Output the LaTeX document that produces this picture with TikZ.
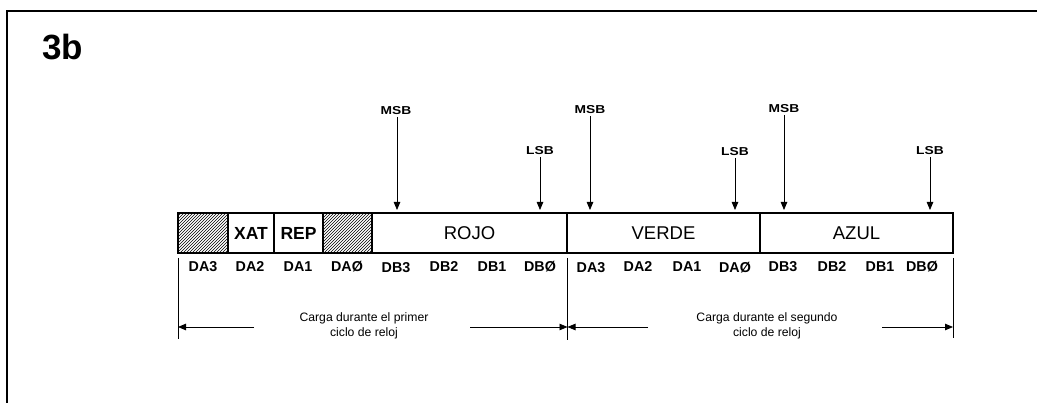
\documentclass[tikz,border=0pt]{standalone}
\usepackage{fontspec}
\setmainfont{Liberation Sans}
\newfontfamily\widesans[FakeStretch=1.2]{Liberation Sans}
\usetikzlibrary{patterns,arrows.meta}
\tikzset{
  cell/.style={draw,line width=1.3pt,minimum height=40pt,inner sep=0pt,anchor=center},
  hatch/.style={cell,pattern=north east lines},
  bitlbl/.style={font=\fontsize{14.3}{14}\selectfont\bfseries,inner sep=0pt},
  sblbl/.style={font=\widesans\fontsize{11.5}{12}\selectfont\bfseries,inner sep=1.5pt},
  ptr/.style={line width=0.8pt,-{Triangle[length=8pt,width=6.5pt]}},
  dim/.style={line width=0.8pt,-{Triangle[length=8pt,width=6.5pt]}},
  ext/.style={line width=0.8pt},
  note/.style={font=\fontsize{12.2}{15}\selectfont,align=center,inner sep=0pt}
}
\begin{document}
\begin{tikzpicture}[x=1pt,y=-1pt]
\useasboundingbox (0,0) rectangle (1037,403);
% frame
\draw[line width=1.5pt] (7,403) -- (7,11) -- (1037,11);
\node[anchor=west,font=\fontsize{35}{36}\selectfont\bfseries,inner sep=0pt] (title) at (42,47) {3b};
% register cells
\node[hatch,minimum width=50pt] (c1) at (203,233) {};
\node[cell,minimum width=46pt,font=\fontsize{17.5}{17.5}\selectfont\bfseries] (xat) at (251,233) {XAT};
\node[cell,minimum width=49pt,font=\fontsize{17.5}{17.5}\selectfont\bfseries] (rep) at (298.5,233) {REP};
\node[hatch,minimum width=49pt] (c4) at (347.5,233) {};
\node[cell,minimum width=195pt,font=\fontsize{18.5}{18.5}\selectfont] (rojo) at (469.5,233) {ROJO};
\node[cell,minimum width=193pt,font=\fontsize{18.5}{18.5}\selectfont] (verde) at (663.5,233) {VERDE};
\node[cell,minimum width=193pt,font=\fontsize{18.5}{18.5}\selectfont] (azul) at (856.5,233) {AZUL};
% bit labels
\node[bitlbl] (b1) at (203,267) {DA3};
\node[bitlbl] (b2) at (250,267) {DA2};
\node[bitlbl] (b3) at (298,267) {DA1};
\node[bitlbl] (b4) at (347,267) {DAØ};
\node[bitlbl] (b5) at (396,268) {DB3};
\node[bitlbl] (b6) at (444,267) {DB2};
\node[bitlbl] (b7) at (492,267) {DB1};
\node[bitlbl] (b8) at (540,267) {DBØ};
\node[bitlbl] (b9) at (591,268) {DA3};
\node[bitlbl] (b10) at (638,267) {DA2};
\node[bitlbl] (b11) at (687,267) {DA1};
\node[bitlbl] (b12) at (735,268) {DAØ};
\node[bitlbl] (b13) at (783,267) {DB3};
\node[bitlbl] (b14) at (832,267) {DB2};
\node[bitlbl] (b15) at (880,267) {DB1};
\node[bitlbl] (b16) at (922,267) {DBØ};
% MSB / LSB pointers
\node[sblbl] (m1) at (396,111) {MSB};
\node[sblbl] (l1) at (540,151) {LSB};
\node[sblbl] (m2) at (590,110) {MSB};
\node[sblbl] (l2) at (735,152) {LSB};
\node[sblbl] (m3) at (784,109) {MSB};
\node[sblbl] (l3) at (930,151) {LSB};
\coordinate (tm1) at (397,210);
\coordinate (tl1) at (540,210);
\coordinate (tm2) at (590,210);
\coordinate (tl2) at (735,210);
\coordinate (tm3) at (784,210);
\coordinate (tl3) at (930,210);
\draw[ptr] (m1.south -| tm1) -- (tm1);
\draw[ptr] (l1.south -| tl1) -- (tl1);
\draw[ptr] (m2.south -| tm2) -- (tm2);
\draw[ptr] (l2.south -| tl2) -- (tl2);
\draw[ptr] (m3.south -| tm3) -- (tm3);
\draw[ptr] (l3.south -| tl3) -- (tl3);
% extension lines
\coordinate (e1a) at (178,258); \coordinate (e1b) at (178,339);
\coordinate (e2a) at (567.5,258); \coordinate (e2b) at (567.5,340);
\coordinate (e3a) at (953,258); \coordinate (e3b) at (953,338);
\draw[ext] (e1a) -- (e1b);
\draw[ext] (e2a) -- (e2b);
\draw[ext] (e3a) -- (e3b);
% dimension arrows
\node[note] (n1) at (364,326) {Carga durante el primer\\ciclo de reloj};
\node[note] (n2) at (767,326) {Carga durante el segundo\\ciclo de reloj};
\coordinate (d1l) at (178,327); \coordinate (d1la) at (254,327);
\coordinate (d1r) at (567.5,327); \coordinate (d1ra) at (470,327);
\coordinate (d2l) at (567.5,327); \coordinate (d2la) at (648,327);
\coordinate (d2r) at (953,327); \coordinate (d2ra) at (882,327);
\draw[dim] (d1la) -- (d1l);
\draw[dim] (d1ra) -- (d1r);
\draw[dim] (d2la) -- (d2l);
\draw[dim] (d2ra) -- (d2r);
\end{tikzpicture}
\end{document}
